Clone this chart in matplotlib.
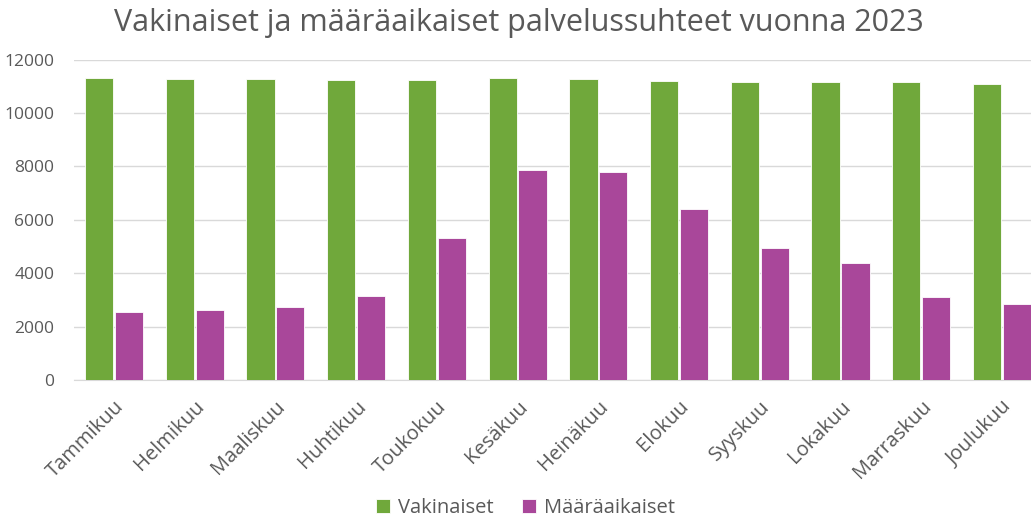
import numpy as np
import matplotlib
matplotlib.use('Agg')
import matplotlib.pyplot as plt

# Data
months = ['Tammikuu', 'Helmikuu', 'Maaliskuu', 'Huhtikuu', 'Toukokuu', 'Kesäkuu',
          'Heinäkuu', 'Elokuu', 'Syyskuu', 'Lokakuu', 'Marraskuu', 'Joulukuu']
vakinaiset = [11290, 11255, 11255, 11250, 11250, 11290,
              11265, 11200, 11165, 11140, 11140, 11100]
maaraaikaiset = [2545, 2620, 2745, 3130, 5325, 7845,
                 7785, 6410, 4940, 4365, 3105, 2845]
yticks = [0, 2000, 4000, 6000, 8000, 10000, 12000]

green = '#70A83B'
purple = '#A9479A'
text_color = '#595959'

plt.rcParams['font.family'] = ['Open Sans', 'DejaVu Sans']

fig = plt.figure(figsize=(10.31, 5.22), dpi=100)
ax = fig.add_axes([0.0714, 0.272, 0.9286, 0.614])

x = np.arange(len(months))
width = 0.35
ax.bar(x - width / 2 - 0.01, vakinaiset, width, color=green, edgecolor='white',
       linewidth=0.6, label='Vakinaiset', zorder=3)
ax.bar(x + width / 2 + 0.01, maaraaikaiset, width, color=purple, edgecolor='white',
       linewidth=0.6, label='Määräaikaiset', zorder=3)

ax.set_ylim(0, 12000)
ax.set_xlim(-0.5, 11.36)
ax.set_yticks(yticks)
ax.set_yticklabels([str(v) for v in yticks], fontsize=12.5, color=text_color)
ax.yaxis.grid(True, color='#D9D9D9', linewidth=1, zorder=0)
ax.tick_params(axis='y', length=0, pad=14)

ax.set_xticks(x)
ax.set_xticklabels(months, rotation=45, ha='right', rotation_mode='anchor',
                   fontsize=14.5, color=text_color)
ax.tick_params(axis='x', length=0, pad=12)

for side in ['top', 'right', 'left']:
    ax.spines[side].set_visible(False)
ax.spines['bottom'].set_color('#D9D9D9')

fig.suptitle('Vakinaiset ja määräaikaiset palvelussuhteet vuonna 2023',
             fontsize=22, color=text_color, x=0.503, y=0.985)

fig.legend(loc='lower center', bbox_to_anchor=(0.51, -0.028), ncol=2, frameon=False,
           fontsize=14.5, handlelength=0.7, handleheight=0.7, handletextpad=0.4,
           columnspacing=1.4, labelcolor=text_color)

fig.savefig('out.png', dpi=100)
